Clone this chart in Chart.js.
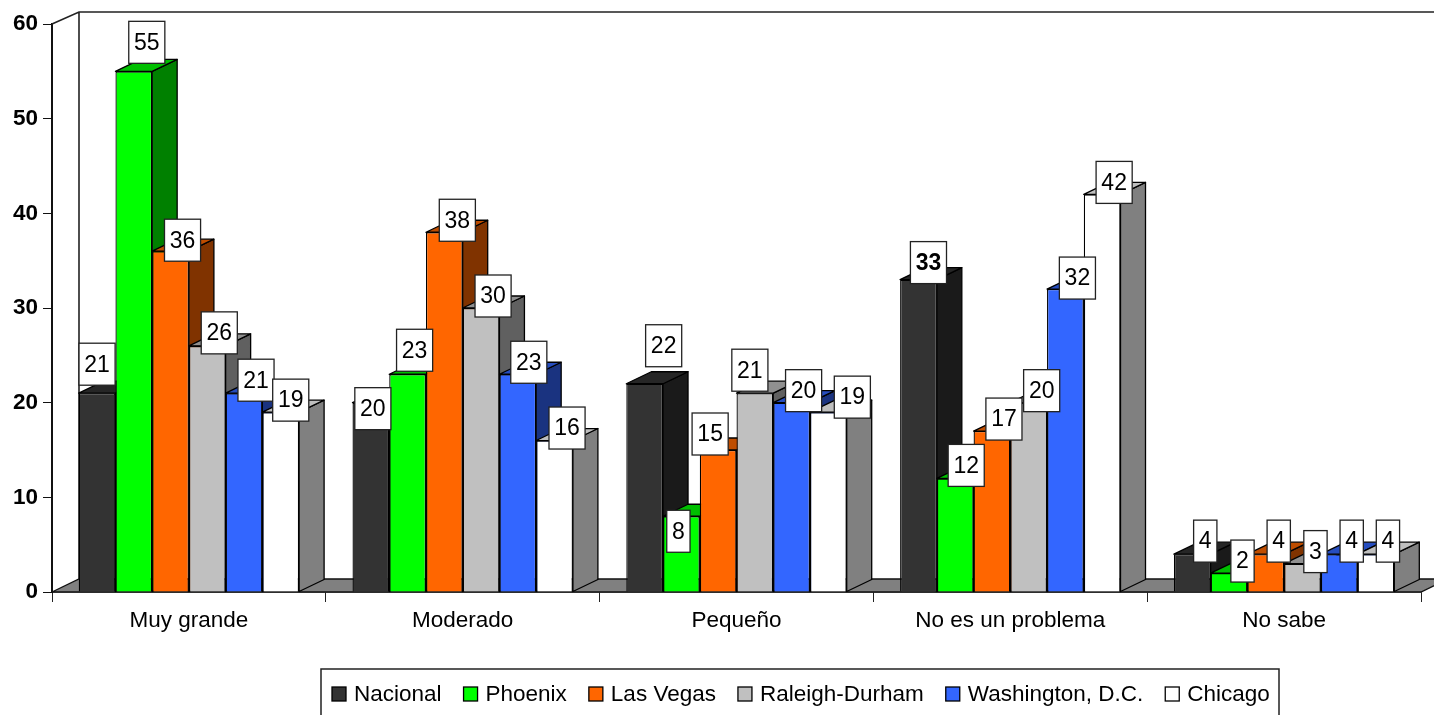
<!DOCTYPE html>
<html>
<head>
<meta charset="utf-8">
<title>Chart</title>
<script src="https://cdn.jsdelivr.net/npm/chart.js@4"></script>
<style>
  html, body { margin: 0; padding: 0; background: #fff; overflow: hidden; }
  canvas { display: block; }
</style>
</head>
<body>
<canvas id="chart" width="1434" height="715"></canvas>
<script>
const categories = ['Muy grande', 'Moderado', 'Pequeño', 'No es un problema', 'No sabe'];
const seriesNames = ['Nacional', 'Phoenix', 'Las Vegas', 'Raleigh-Durham', 'Washington, D.C.', 'Chicago'];
const nacional = [21, 20, 22, 33, 4];
const phoenix = [55, 23, 8, 12, 2];
const lasVegas = [36, 38, 15, 17, 4];
const raleighDurham = [26, 30, 21, 20, 3];
const washington = [21, 23, 20, 32, 4];
const chicago = [19, 16, 19, 42, 4];
const seriesColors = ['#333333', '#00ff00', '#ff6600', '#c0c0c0', '#3366ff', '#ffffff'];

// where each value box sits relative to the top of its bar, [dx, dy], by series then category
const labelNudges = [
  [[0, -29], [2, 6], [19, -38], [10, -17], [13, -13]],
  [[13, -29], [7, -24], [-3, 15], [11, -13], [13.5, -12]],
  [[12, -11], [13, -12], [-8, -16], [12, -12], [13, -13]],
  [[12, -13], [12, -12], [-5, -23], [13, -12], [13, -12]],
  [[12, -13], [11, -12], [12, -12], [12, -11], [12.5, -13]],
  [[10, -12], [12.5, -12.5], [24, -15], [12, -12], [12, -13]]
];

const FONT = '"Liberation Sans", Arial, sans-serif';
const FONT_SIZE = 22.5;
const DEPTH_X = 25;
const DEPTH_Y = -12;

// darker version of a colour, for the side and top faces
function shade(hex, factor) {
  const n = parseInt(hex.slice(1), 16);
  const r = Math.round(((n >> 16) & 255) * factor);
  const g = Math.round(((n >> 8) & 255) * factor);
  const b = Math.round((n & 255) * factor);
  return `rgb(${r}, ${g}, ${b})`;
}

function polygon(ctx, points, fill) {
  ctx.beginPath();
  points.forEach((p, i) => (i === 0 ? ctx.moveTo(p[0], p[1]) : ctx.lineTo(p[0], p[1])));
  ctx.closePath();
  if (fill) {
    ctx.fillStyle = fill;
    ctx.fill();
  }
  ctx.stroke();
}

// floor, back wall and the side/top faces of the bars, behind the bar fronts
const depthPlugin = {
  id: 'depth',
  beforeDatasetsDraw(chart) {
    const ctx = chart.ctx;
    const { left, right, top, bottom } = chart.chartArea;
    ctx.save();
    ctx.strokeStyle = '#111';
    ctx.lineWidth = 1.3;
    polygon(ctx, [[left, bottom], [left + 27, bottom - 13], [right + 27, bottom - 13], [right, bottom]], '#808080');
    ctx.lineWidth = 1.6;
    ctx.strokeStyle = '#222';
    ctx.beginPath();
    ctx.moveTo(left, top);
    ctx.lineTo(left + 27, top - 12);
    ctx.lineTo(chart.width, top - 12);
    ctx.moveTo(left + 27, top - 12);
    ctx.lineTo(left + 27, bottom - 13);
    ctx.stroke();

    ctx.strokeStyle = '#000';
    ctx.lineWidth = 1.3;
    ctx.lineJoin = 'round';
    categories.forEach((cat, c) => {
      seriesNames.forEach((name, s) => {
        const bar = chart.getDatasetMeta(s).data[c];
        const half = bar.width / 2;
        const x1 = bar.x - half;
        const x2 = bar.x + half;
        polygon(ctx, [[x2, bar.y], [x2 + DEPTH_X, bar.y + DEPTH_Y], [x2 + DEPTH_X, bar.base + DEPTH_Y], [x2, bar.base]], shade(seriesColors[s], 0.5));
        polygon(ctx, [[x1, bar.y], [x1 + DEPTH_X, bar.y + DEPTH_Y], [x2 + DEPTH_X, bar.y + DEPTH_Y], [x2, bar.y]], shade(seriesColors[s], 0.75));
      });
    });
    ctx.restore();
  }
};

// value boxes and the legend along the bottom
const labelsPlugin = {
  id: 'valueBoxes',
  afterDatasetsDraw(chart) {
    const ctx = chart.ctx;
    ctx.save();
    ctx.textBaseline = 'middle';
    seriesNames.forEach((name, s) => {
      chart.getDatasetMeta(s).data.forEach((bar, c) => {
        const value = chart.data.datasets[s].data[c];
        const cx = bar.x + labelNudges[s][c][0];
        const cy = bar.y + labelNudges[s][c][1];
        const isBold = s === 0 && c === 3;
        ctx.font = `${isBold ? 'bold ' : ''}23px ${FONT}`;
        const w = ctx.measureText(String(value)).width + 10.5;
        ctx.fillStyle = '#fff';
        ctx.strokeStyle = '#222';
        ctx.lineWidth = 1.3;
        ctx.fillRect(cx - w / 2, cy - 21, w, 42);
        ctx.strokeRect(cx - w / 2, cy - 21, w, 42);
        ctx.fillStyle = '#000';
        ctx.textAlign = 'center';
        ctx.fillText(String(value), cx, cy + 1);
      });
    });

    // legend
    ctx.strokeStyle = '#222';
    ctx.lineWidth = 1.5;
    ctx.strokeRect(321, 669, 958, 60);
    ctx.font = `${FONT_SIZE}px ${FONT}`;
    ctx.textAlign = 'left';
    let x = 332;
    seriesNames.forEach((name, s) => {
      ctx.fillStyle = seriesColors[s];
      ctx.strokeStyle = '#000';
      ctx.lineWidth = 1.3;
      ctx.fillRect(x, 687, 14, 14);
      ctx.strokeRect(x, 687, 14, 14);
      ctx.fillStyle = '#000';
      ctx.fillText(name, x + 22, 695);
      x += 22 + ctx.measureText(name).width + 22;
    });
    ctx.restore();
  }
};

const seriesValues = [nacional, phoenix, lasVegas, raleighDurham, washington, chicago];

new Chart(document.getElementById('chart'), {
  type: 'bar',
  data: {
    labels: categories,
    datasets: seriesNames.map((name, s) => ({
      label: name,
      data: seriesValues[s],
      backgroundColor: seriesColors[s],
      borderColor: '#000',
      borderWidth: 1.3
    }))
  },
  options: {
    responsive: false,
    animation: false,
    layout: { padding: { top: 24, right: 13, left: 0, bottom: 0 } },
    plugins: {
      legend: { display: false },
      tooltip: { enabled: false }
    },
    datasets: { bar: { categoryPercentage: 0.805, barPercentage: 1 } },
    scales: {
      x: {
        afterFit(scale) { scale.height = 123; },
        grid: { drawOnChartArea: false, drawTicks: true, tickLength: 10, tickColor: '#222', offset: true },
        border: { color: '#111', width: 1.5 },
        ticks: { color: '#000', font: { family: FONT, size: FONT_SIZE }, padding: 5, maxRotation: 0 }
      },
      y: {
        min: 0,
        max: 60,
        afterFit(scale) { scale.width = 52; },
        grid: { drawOnChartArea: false, drawTicks: true, tickLength: 9, tickColor: '#111' },
        border: { color: '#111', width: 2 },
        ticks: { stepSize: 10, color: '#000', font: { family: FONT, size: FONT_SIZE, weight: 'bold' }, padding: 5 }
      }
    }
  },
  plugins: [depthPlugin, labelsPlugin]
});
</script>
</body>
</html>
